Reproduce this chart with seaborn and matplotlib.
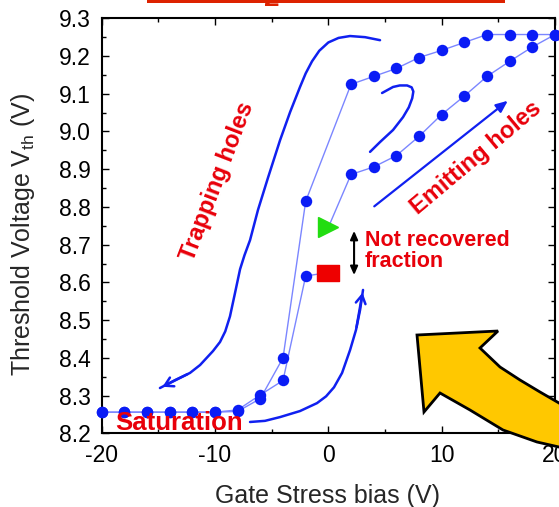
import numpy as np
import pandas as pd
import matplotlib
matplotlib.use("Agg")
import matplotlib.pyplot as plt
import seaborn as sns
from matplotlib.patches import Polygon, Rectangle
from matplotlib.transforms import Affine2D

# ---------------- data ----------------
# sweep from 0 V towards -20 V (starts at the red square)
neg_x = [-2, -4, -6, -8, -10, -12, -14, -16, -18, -20]
neg_y = [8.617, 8.340, 8.302, 8.262, 8.256, 8.256, 8.256, 8.256, 8.256, 8.256]
# sweep from -20 V up to +20 V
up_x = [-20, -18, -16, -14, -12, -10, -8, -6, -4, -2, 2, 4, 6, 8, 10, 12, 14, 16, 18, 20]
up_y = [8.256, 8.256, 8.256, 8.256, 8.256, 8.256, 8.258, 8.292, 8.400, 8.815,
        9.125, 9.146, 9.167, 9.196, 9.215, 9.236, 9.257, 9.257, 9.257, 9.257]
# sweep from +20 V back to 0 V (ends at the green triangle)
down_x = [20, 18, 16, 14, 12, 10, 8, 6, 4, 2]
down_y = [9.257, 9.224, 9.186, 9.146, 9.094, 9.045, 8.987, 8.936, 8.906, 8.886]
start_x, start_y = [0], [8.626]   # initial Vth (red square)
final_x, final_y = [0], [8.746]   # final Vth (green triangle)

x_ticks = [-20, -10, 0, 10, 20]
y_ticks = [8.2, 8.3, 8.4, 8.5, 8.6, 8.7, 8.8, 8.9, 9.0, 9.1, 9.2, 9.3]

# hand-drawn annotation strokes (data coordinates)
trap_curve_x = [4.56, 3.24, 1.91, 0.90, 0.00, -0.80, -1.44, -2.00, -2.50, -3.38, -4.26,
                -5.32, -6.21, -6.91, -7.40, -7.79, -8.25, -8.68, -9.10, -9.56, -10.18,
                -11.32, -12.21, -13.53, -14.86]
trap_curve_y = [9.242, 9.250, 9.253, 9.248, 9.236, 9.214, 9.186, 9.154, 9.118, 9.051, 8.977,
                8.878, 8.792, 8.712, 8.672, 8.635, 8.570, 8.510, 8.470, 8.442, 8.418,
                8.381, 8.360, 8.341, 8.320]
emit_curve_x = [-6.91, -5.59, -4.26, -2.50, -1.00, -0.20, 0.50, 1.21, 1.92, 2.44, 2.80, 3.06]
emit_curve_y = [8.230, 8.233, 8.243, 8.259, 8.280, 8.298, 8.322, 8.360, 8.421, 8.474, 8.527, 8.580]
hook_curve_x = [3.68, 4.56, 5.71, 6.59, 7.10, 7.40, 7.50, 7.35, 6.95, 6.30, 5.71, 4.74]
hook_curve_y = [8.946, 8.972, 9.004, 9.038, 9.064, 9.088, 9.106, 9.117, 9.122, 9.122, 9.118, 9.102]

# ---------------- style ----------------
sns.set_style("ticks")
plt.rcParams["font.family"] = ["Liberation Sans", "DejaVu Sans"]
plt.rcParams["mathtext.default"] = "regular"
plt.rcParams["axes.unicode_minus"] = False

W, H = 559, 507
fig = plt.figure(figsize=(W / 100, H / 100), dpi=100)
ax = fig.add_axes([101.7 / W, 1 - 433.3 / H, (555 - 101.7) / W, (433.3 - 18.3) / H])

LINE_C = "#7b86ff"
MARK_C = "#0a1cf5"
RED = "#e8000a"
STROKE = "#1020f0"

df_neg = pd.DataFrame({"x": start_x + neg_x, "y": start_y + neg_y})
df_up = pd.DataFrame({"x": up_x, "y": up_y})
df_down = pd.DataFrame({"x": down_x + final_x, "y": down_y + final_y})

for d in (df_neg, df_up, df_down):
    sns.lineplot(data=d, x="x", y="y", sort=False, estimator=None, color=LINE_C,
                 lw=1.0, ax=ax, zorder=2)

pts = pd.DataFrame({"x": neg_x + up_x + down_x, "y": neg_y + up_y + down_y})
sns.scatterplot(data=pts, x="x", y="y", marker="o", s=68, color=MARK_C,
                edgecolor=MARK_C, linewidth=0, ax=ax, zorder=3, clip_on=False)

rect_marker = [(-1, -0.72), (1, -0.72), (1, 0.72), (-1, 0.72), (-1, -0.72)]
ax.plot(start_x, start_y, linestyle="none", marker=rect_marker, ms=16,
        color="#ee0000", zorder=4)
ax.plot(final_x, final_y, linestyle="none", marker=">", ms=14,
        color="#22dd11", zorder=4)

# hand-drawn arrows
ax.plot(trap_curve_x, trap_curve_y, color=STROKE, lw=1.8, zorder=2,
        solid_joinstyle="round", solid_capstyle="round")
ax.annotate("", xy=(trap_curve_x[-1], trap_curve_y[-1]),
            xytext=(trap_curve_x[-3], trap_curve_y[-3]),
            arrowprops=dict(arrowstyle="->,head_length=0.6,head_width=0.35",
                            color=STROKE, lw=1.8), zorder=2)
ax.plot(emit_curve_x, emit_curve_y, color=STROKE, lw=1.8, zorder=2,
        solid_joinstyle="round", solid_capstyle="round")
ax.annotate("", xy=(emit_curve_x[-1], emit_curve_y[-1]),
            xytext=(emit_curve_x[-3], emit_curve_y[-3]),
            arrowprops=dict(arrowstyle="->,head_length=0.6,head_width=0.35",
                            color=STROKE, lw=1.8), zorder=2)
ax.plot(hook_curve_x, hook_curve_y, color=STROKE, lw=1.8, zorder=2,
        solid_joinstyle="round", solid_capstyle="round")
ax.annotate("", xy=(16.03, 9.086), xytext=(3.86, 8.797),
            arrowprops=dict(arrowstyle="-|>,head_length=0.7,head_width=0.3",
                            color=STROKE, lw=1.6), zorder=2)
ax.annotate("", xy=(2.27, 8.612), xytext=(2.27, 8.744),
            arrowprops=dict(arrowstyle="<|-|>,head_length=0.5,head_width=0.22",
                            color="black", lw=1.5), zorder=2)

# texts
ax.text(-9.83, 8.869, "Trapping holes", rotation=69, color=RED, fontsize=17,
        fontweight="bold", ha="center", va="center", rotation_mode="anchor")
ax.text(13.04, 8.930, "Emitting holes", rotation=40, color=RED, fontsize=17,
        fontweight="bold", ha="center", va="center", rotation_mode="anchor")
ax.text(3.24, 8.684, "Not recovered\nfraction", color=RED, fontsize=15.5,
        fontweight="bold", ha="left", va="center", linespacing=1.0)
ax.text(-13.22, 8.226, "Saturation", color=RED, fontsize=18.5, fontweight="bold",
        ha="center", va="center")

# axes formatting
ax.set_xlim(-20, 20)
ax.set_ylim(8.2, 9.3)
ax.set_xticks(x_ticks)
ax.set_xticks([-15, -5, 5, 15], minor=True)
ax.set_yticks(y_ticks)
ax.set_yticks(np.arange(8.25, 9.3, 0.1), minor=True)
ax.set_yticklabels([f"{v:.1f}" for v in y_ticks])
ax.tick_params(which="both", direction="in", top=True, right=True, width=1.0,
               labelsize=16.5, colors="black")
ax.tick_params(which="major", length=5, pad=8)
ax.tick_params(which="minor", length=3)
for s in ax.spines.values():
    s.set_linewidth(1.5)
    s.set_color("black")
ax.set_xlabel("Gate Stress bias (V)", fontsize=18)
ax.set_ylabel("Threshold Voltage V$_{th}$ (V)", fontsize=18)
ax.xaxis.set_label_coords(0.498, -0.122)
ax.yaxis.set_label_coords(-0.142, 0.48)

# decorations in figure pixel coordinates
px = Affine2D().scale(1 / W, -1 / H).translate(0, 1) + fig.transFigure
arrow_pts = [(417, 335), (498, 331), (480, 348), (500, 367), (520, 380), (540, 392),
             (559, 403), (620, 440), (620, 480), (559, 447), (537, 442), (503, 430),
             (470, 410), (440, 393), (424, 412)]
fig.add_artist(Polygon(arrow_pts, closed=True, facecolor="#ffc800",
                       edgecolor="black", lw=2.0, transform=px, zorder=10))
fig.add_artist(Rectangle((147, 0), 358, 2.6, facecolor="#dd2200", edgecolor="none",
                         transform=px, zorder=10))
fig.text(272 / W, 1 - 6 / H, "2", color="#dd2200", fontsize=20, fontweight="bold",
         ha="center", va="baseline")

fig.savefig("out.png", dpi=100)
